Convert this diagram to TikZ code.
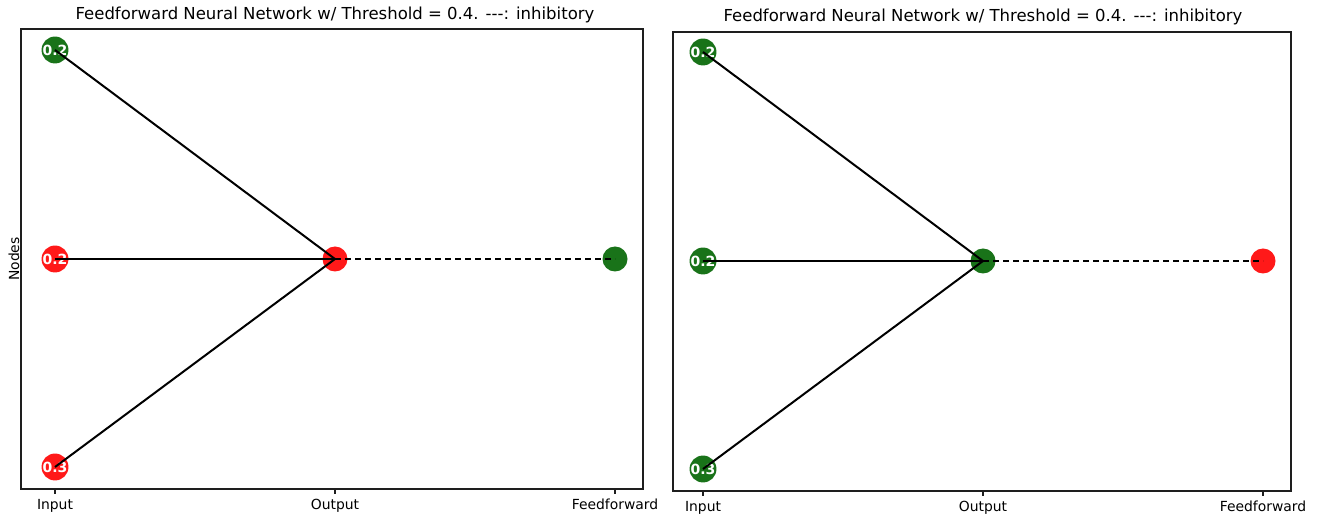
\documentclass[tikz,border=0pt]{standalone}
\usepackage{fontspec}
\setmainfont{DejaVu Sans}
\definecolor{ngreen}{RGB}{25,115,25}
\definecolor{nred}{RGB}{255,25,25}
\definecolor{spine}{RGB}{30,30,30}
\tikzset{
  neuron/.style={circle,minimum size=25pt,inner sep=0pt,text=white,font=\fontsize{14}{14}\selectfont\bfseries},
  gn/.style={neuron,fill=ngreen},
  rn/.style={neuron,fill=nred},
  edge/.style={line width=2pt,black},
  inhib/.style={line width=2pt,black,dash pattern=on 6pt off 4pt},
  frame/.style={draw=spine,line width=1.1pt},
  ticklbl/.style={font=\fontsize{13.9}{15}\selectfont,anchor=north,inner sep=0pt},
  titlelbl/.style={font=\fontsize{16.5}{18}\selectfont,inner sep=0pt},
  tickmark/.style={line width=1.1pt,spine}
}
\begin{document}
\begin{tikzpicture}[x=1pt,y=-1pt]
\useasboundingbox (0,0) rectangle (1318,526);
\fill[white] (0,0) rectangle (1318,526);
% ---------- left panel ----------
\draw[frame] (21,29) rectangle (643,489);
\node[titlelbl] (t1) at (335,15) {Feedforward Neural Network w/ Threshold = 0.4. -{}-{}-: inhibitory};
\node[font=\fontsize{13.9}{15}\selectfont,rotate=90,inner sep=0pt] (yl) at (14,259) {Nodes};
\coordinate (lt1) at (55,489); \coordinate (lt2) at (335,489); \coordinate (lt3) at (615,489);
\draw[tickmark] (lt1) -- ++(0,5); \draw[tickmark] (lt2) -- ++(0,5); \draw[tickmark] (lt3) -- ++(0,5);
\node[ticklbl] (lx1) at (55,499) {Input};
\node[ticklbl] (lx2) at (335,499) {Output};
\node[ticklbl] (lx3) at (615,499) {Feedforward};
\node[gn] (la) at (55,50) {0.2};
\node[rn] (lb) at (55,259) {0.2};
\node[rn] (lc) at (55,467) {0.3};
\node[rn] (lo) at (335,259) {};
\node[gn] (lf) at (615,259) {};
\draw[edge] (la.center) -- (lo.center);
\draw[edge] (lb.center) -- (lo.center);
\draw[edge] (lc.center) -- (lo.center);
\draw[inhib] (lo.center) -- (lf.center);
% ---------- right panel ----------
\draw[frame] (673,32) rectangle (1291,491);
\node[titlelbl] (t2) at (983,17) {Feedforward Neural Network w/ Threshold = 0.4. -{}-{}-: inhibitory};
\coordinate (rt1) at (703,491); \coordinate (rt2) at (983,491); \coordinate (rt3) at (1263,491);
\draw[tickmark] (rt1) -- ++(0,5); \draw[tickmark] (rt2) -- ++(0,5); \draw[tickmark] (rt3) -- ++(0,5);
\node[ticklbl] (rx1) at (703,501) {Input};
\node[ticklbl] (rx2) at (983,501) {Output};
\node[ticklbl] (rx3) at (1263,501) {Feedforward};
\node[gn] (ra) at (703,52) {0.2};
\node[gn] (rb) at (703,261) {0.2};
\node[gn] (rc) at (703,469) {0.3};
\node[gn] (ro) at (983,261) {};
\node[rn] (rf) at (1263,261) {};
\draw[edge] (ra.center) -- (ro.center);
\draw[edge] (rb.center) -- (ro.center);
\draw[edge] (rc.center) -- (ro.center);
\draw[inhib] (ro.center) -- (rf.center);
\end{tikzpicture}
\end{document}
